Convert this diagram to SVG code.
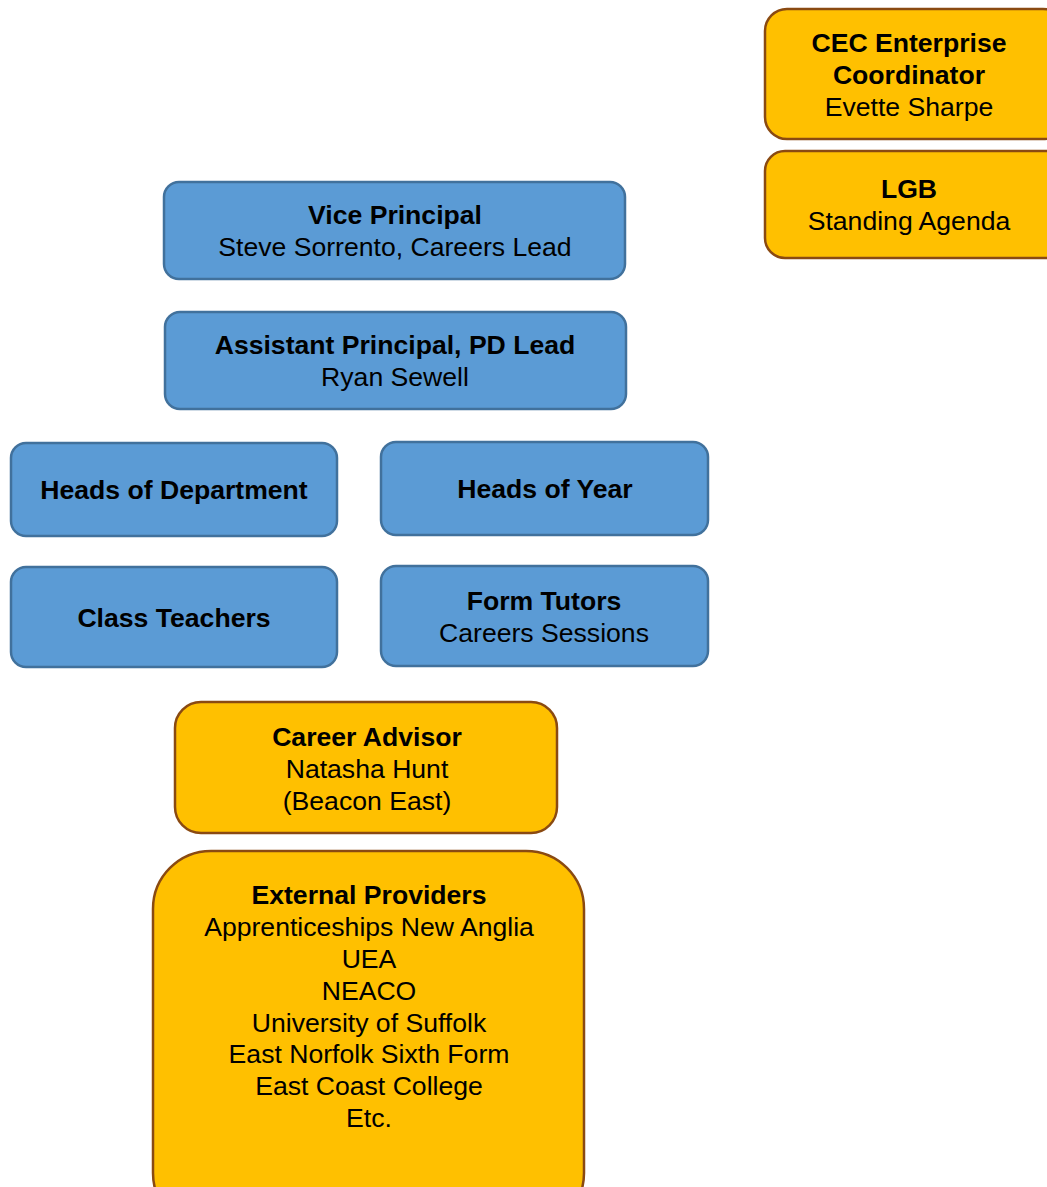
<svg xmlns="http://www.w3.org/2000/svg" width="1047" height="1187" viewBox="0 0 1047 1187">
<style>
.b{fill:#5B9BD5;stroke:#41719C;stroke-width:2.5}
.o{fill:#FFC000;stroke:#8A4A12;stroke-width:2.5}
text{font-family:"Liberation Sans",Arial,sans-serif;font-size:26.6px;fill:#000;text-anchor:middle}
.h{font-weight:bold}
</style>
<rect width="1047" height="1187" fill="#fff"/>
<g id="connectors"></g>
<g id="cec"><rect class="o" x="765" y="9" width="300" height="130" rx="22"/>
<text x="909" y="52" class="h">CEC Enterprise</text><text x="909" y="84" class="h">Coordinator</text><text x="909" y="116">Evette Sharpe</text></g>
<g id="lgb"><rect class="o" x="765" y="151" width="300" height="107" rx="20"/>
<text x="909" y="198" class="h">LGB</text><text x="909" y="230">Standing Agenda</text></g>
<g id="vp"><rect class="b" x="164" y="182" width="461" height="97" rx="15"/>
<text x="395" y="224" class="h">Vice Principal</text><text x="395" y="256">Steve Sorrento, Careers Lead</text></g>
<g id="ap"><rect class="b" x="165" y="312" width="461" height="97" rx="15"/>
<text x="395" y="354" class="h">Assistant Principal, PD Lead</text><text x="395" y="386">Ryan Sewell</text></g>
<g id="hod"><rect class="b" x="11" y="443" width="326" height="93" rx="15"/>
<text x="174" y="499" class="h">Heads of Department</text></g>
<g id="hoy"><rect class="b" x="381" y="442" width="327" height="93" rx="15"/>
<text x="545" y="498" class="h">Heads of Year</text></g>
<g id="ct"><rect class="b" x="11" y="567" width="326" height="100" rx="15"/>
<text x="174" y="627" class="h">Class Teachers</text></g>
<g id="ft"><rect class="b" x="381" y="566" width="327" height="100" rx="15"/>
<text x="544" y="610" class="h">Form Tutors</text><text x="544" y="642">Careers Sessions</text></g>
<g id="ca"><rect class="o" x="175" y="702" width="382" height="131" rx="26"/>
<text x="367" y="746" class="h">Career Advisor</text><text x="367" y="778">Natasha Hunt</text><text x="367" y="810">(Beacon East)</text></g>
<g id="ep"><rect class="o" x="153" y="851" width="431" height="380" rx="58"/>
<text x="369" y="904" class="h">External Providers</text>
<text x="369" y="936">Apprenticeships New Anglia</text>
<text x="369" y="968">UEA</text>
<text x="369" y="1000">NEACO</text>
<text x="369" y="1032">University of Suffolk</text>
<text x="369" y="1063">East Norfolk Sixth Form</text>
<text x="369" y="1095">East Coast College</text>
<text x="369" y="1127">Etc.</text></g>
</svg>
